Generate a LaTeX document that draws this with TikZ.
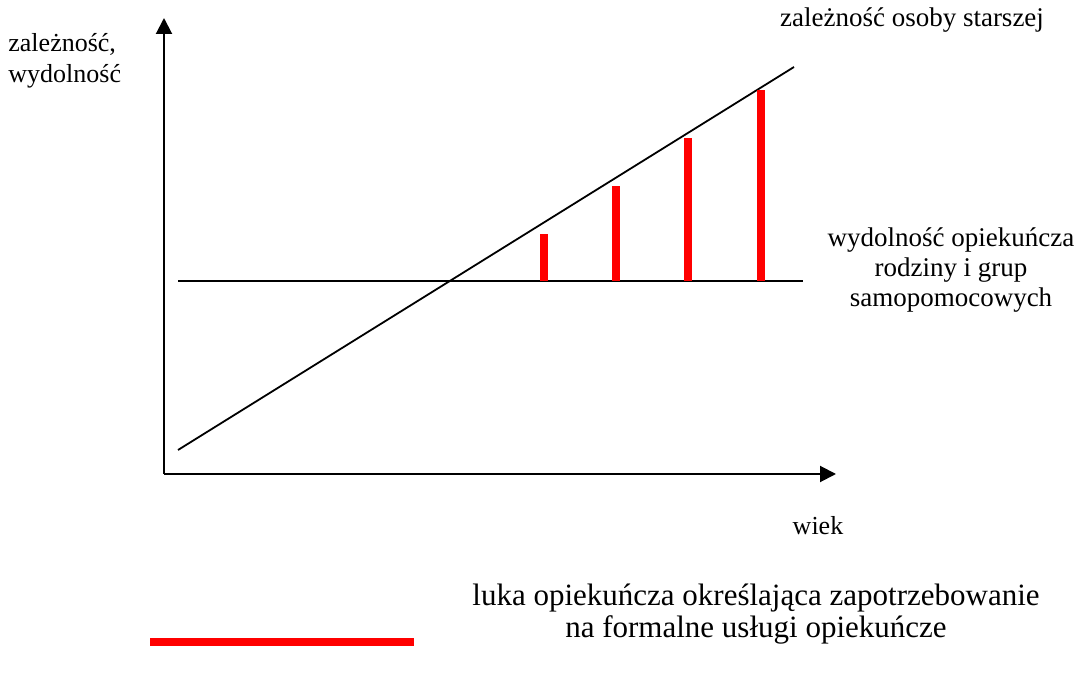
\documentclass[tikz,border=0pt]{standalone}
\usepackage{fontspec}
\setmainfont{Liberation Serif}
\usetikzlibrary{arrows.meta}
\usetikzlibrary{positioning}

\begin{document}
\begin{tikzpicture}[x=0.5pt,y=-0.5pt,
        axis/.style={line width=1pt,-{Triangle[length=8pt,width=8pt]}},
        line/.style={line width=0.9pt},
        gap/.style={red,line width=4pt},
        label/.style={font=\fontsize{13.5}{15}\selectfont,align=center,inner sep=0pt}]
        \useasboundingbox (0,0) rectangle (1083,678);

        % Osie
        \coordinate (o) at (164,474);
        \coordinate (ytop) at (164,18);
        \coordinate (xend) at (836,474);
        \draw[axis] (o)--(ytop);
        \draw[axis] (o)--(xend);

        % Linie
        \coordinate (h1) at (178,281);
        \coordinate (h2) at (803,281);
        \coordinate (d1) at (178,450);
        \coordinate (d2) at (794,67);
        \draw[line] (h1)--(h2);
        \draw[line] (d1)--(d2);

        % Luka opiekuncza
        \foreach \x/\y in {544/234,616/186,688/138,761/90}{
            \draw[gap] (\x,281)--(\x,\y);
        }

        % Opisy
        \node[label,align=left,anchor=west,font=\fontsize{13}{15.5}\selectfont] (ylab) at (8,61) {zależność,\\wydolność};
        \node[label] (dlab) at (912,20) {zależność osoby starszej};
        \node[label] (hlab) at (951,270) {wydolność opiekuńcza\\rodziny i grup\\samopomocowych};
        \node[label,font=\fontsize{13}{15}\selectfont] (xlab) at (818,526) {wiek};

        % Legenda
        \coordinate (l1) at (150,642);
        \coordinate (l2) at (414,642);
        \draw[gap] (l1)--(l2);
        \node[label,font=\fontsize{15.5}{16}\selectfont] (leg) at (756,614)
            {luka opiekuńcza określająca zapotrzebowanie\\na formalne usługi opiekuńcze};
    \end{tikzpicture}
\end{document}
